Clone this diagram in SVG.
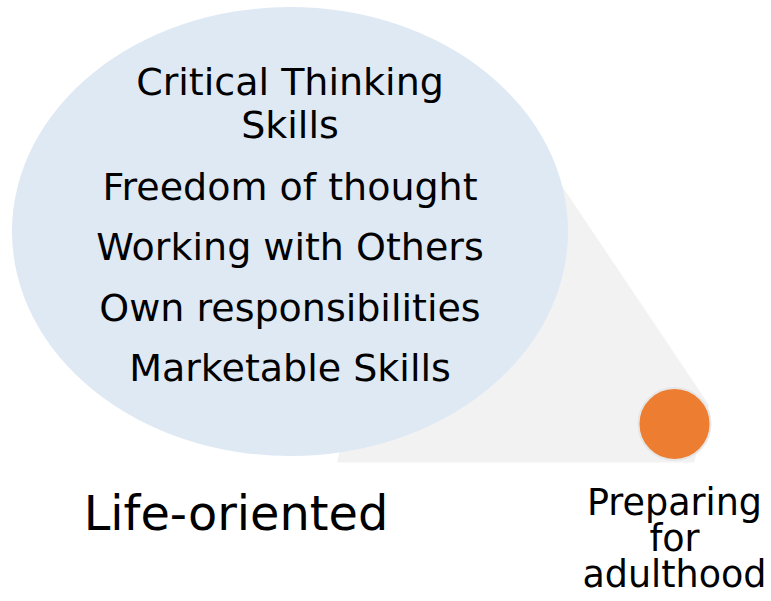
<svg xmlns="http://www.w3.org/2000/svg" width="771" height="601" viewBox="0 0 771 601">
<style>
.t{font-family:"DejaVu Sans","Verdana",sans-serif;fill:#000;text-anchor:middle}
.s37{font-size:38px}
.s36{font-size:36.5px}
.s48{font-size:47.8px}
</style>
<rect width="771" height="601" fill="#fff"/>
<g id="connectors">
<polygon points="337,462.5 694,462.5 709,405 560,183 420,100" fill="#f2f2f2"/>
</g>
<g id="bubble">
<ellipse cx="290" cy="231.5" rx="278" ry="224.5" fill="#dfe9f4"/>
<text class="t s37" x="290" y="95">Critical Thinking</text>
<text class="t s37" x="290" y="138">Skills</text>
<text class="t s37" x="290" y="200">Freedom of thought</text>
<text class="t s37" x="290" y="260">Working with Others</text>
<text class="t s37" x="290" y="321">Own responsibilities</text>
<text class="t s37" x="290" y="381">Marketable Skills</text>
</g>
<g id="life-oriented">
<text class="t s48" x="236" y="530">Life-oriented</text>
</g>
<g id="dot">
<circle cx="674.5" cy="424" r="36" fill="#ed7d31" stroke="#e6e6e6" stroke-width="2"/>
<text class="t s36" x="674.5" y="515">Preparing</text>
<text class="t s36" x="674.5" y="551">for</text>
<text class="t s36" x="674.5" y="587">adulthood</text>
</g>
</svg>
